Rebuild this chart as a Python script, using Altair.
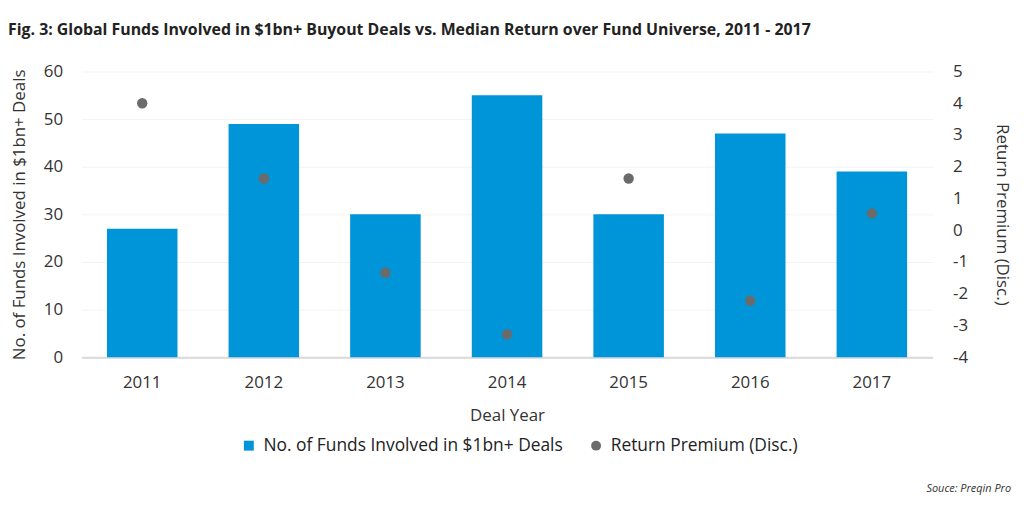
import altair as alt
import pandas as pd

years = ["2011", "2012", "2013", "2014", "2015", "2016", "2017"]
funds = [27, 49, 30, 55, 30, 47, 39]
premium = [4.0, 1.63, -1.34, -3.28, 1.63, -2.22, 0.53]

bar_name = "No. of Funds Involved in $1bn+ Deals"
pt_name = "Return Premium (Disc.)"

df = pd.DataFrame({"year": years, "funds": funds, "premium": premium})

FONT = "Open Sans"
W, H = 858, 288

x_enc = alt.X(
    "year:N",
    title="Deal Year",
    scale=alt.Scale(paddingInner=0.42, paddingOuter=0.21),
    axis=alt.Axis(labelAngle=0, ticks=False, domainColor="#d9d9d9", domainWidth=2,
                  labelFontSize=17, labelColor="#333333", labelPadding=18,
                  titleFontSize=17, titleColor="#333333", titlePadding=17,
                  titleFontWeight="normal", labelFont=FONT, titleFont=FONT),
)

series_scale_color = alt.Scale(domain=[bar_name, pt_name], range=["#0095D8", "#6B6B6B"])
series_scale_shape = alt.Scale(domain=[bar_name, pt_name], range=["square", "circle"])

legend = alt.Legend(title=None, orient="none", legendX=160, legendY=368, direction="horizontal",
                    labelFontSize=17.5, labelFont=FONT, labelColor="#222222", labelLimit=500,
                    symbolSize=100, labelOffset=6, columnPadding=24, symbolStrokeWidth=0)

bars = alt.Chart(df).mark_bar(color="#0095D8").transform_calculate(
    series=f"'{bar_name}'"
).encode(
    x=x_enc,
    y=alt.Y("funds:Q", title="No. of Funds Involved in $1bn+ Deals",
            scale=alt.Scale(domain=[0, 60], nice=False),
            axis=alt.Axis(values=list(range(0, 61, 10)), grid=True, gridColor="#f3f3f3",
                          domain=False, ticks=False, labelFontSize=17, labelColor="#333333",
                          labelPadding=19, titleFontSize=17, titleColor="#333333",
                          titleFontWeight="normal", titlePadding=15, labelFont=FONT, titleFont=FONT)),
    color=alt.Color("series:N", scale=series_scale_color, legend=legend),
)

points = alt.Chart(df).mark_point(filled=True, size=110, opacity=1).transform_calculate(
    series=f"'{pt_name}'"
).encode(
    x=x_enc,
    y=alt.Y("premium:Q", title="Return Premium (Disc.)",
            scale=alt.Scale(domain=[-4, 5], nice=False, zero=False),
            axis=alt.Axis(orient="right", values=list(range(-4, 6)), grid=False,
                          labelExpr="toString(datum.value)",
                          domain=False, ticks=False, labelFontSize=17, labelColor="#333333",
                          labelPadding=20, titleFontSize=17, titleColor="#333333",
                          titleFontWeight="normal", titlePadding=25, labelFont=FONT, titleFont=FONT)),
    color=alt.Color("series:N", scale=series_scale_color, legend=legend),
    shape=alt.Shape("series:N", scale=series_scale_shape, legend=legend),
)

source = alt.Chart(df).mark_text(align="right", baseline="middle", font=FONT, fontSize=11,
                                 fontStyle="italic", color="#333333").encode(
    x=alt.value(W + 79), y=alt.value(421), text=alt.value("Souce: Preqin Pro")
).transform_filter("datum.year == '2011'")

chart = alt.layer(bars, points, source).resolve_scale(y="independent").properties(
    width=W, height=H,
    title=alt.TitleParams(
        "Fig. 3: Global Funds Involved in $1bn+ Buyout Deals vs. Median Return over Fund Universe, 2011 - 2017",
        anchor="start", frame="group", dx=-74, offset=25, font=FONT, fontSize=16,
        fontWeight="bold", color="#222222"),
    autosize=alt.AutoSizeParams(type="none"),
    padding={"left": 74, "top": 62, "right": 84, "bottom": 154},
).configure_view(stroke=None)

chart.save("out.html", embed_options={"renderer": "svg", "actions": False})
